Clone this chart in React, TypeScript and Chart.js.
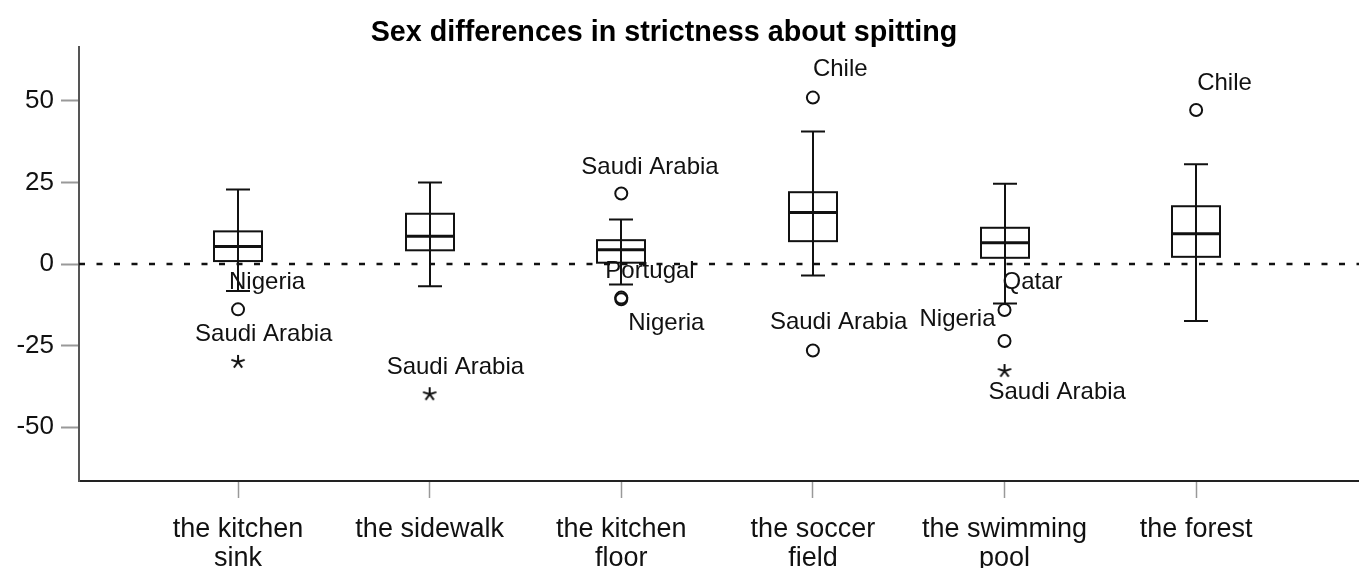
import React, { useEffect, useRef } from "react";
import { Chart, registerables } from "chart.js";

Chart.register(...registerables);

// ---------- data ----------
const chartTitle = "Sex differences in strictness about spitting";
const categories: string[][] = [
  ["the kitchen", "sink"],
  ["the sidewalk"],
  ["the kitchen", "floor"],
  ["the soccer", "field"],
  ["the swimming", "pool"],
  ["the forest"],
];
const whiskerLow = [-8.3, -6.8, -6.3, -3.5, -12.1, -17.5];
const q1 = [0.9, 4.2, 0.4, 7.0, 1.9, 2.2];
const median = [5.4, 8.5, 4.4, 15.8, 6.5, 9.3];
const q3 = [10.0, 15.4, 7.3, 22.0, 11.1, 17.7];
const whiskerHigh = [22.8, 25.0, 13.6, 40.6, 24.6, 30.6];

const outlierCategory = [0, 2, 2, 2, 3, 3, 4, 4, 5];
const outlierValue = [-13.9, 21.6, -10.3, -10.8, 51.0, -26.5, -14.1, -23.6, 47.2];
const outlierName = ["Nigeria", "Saudi Arabia", "Portugal", "Nigeria", "Chile", "Saudi Arabia", "Qatar", "Nigeria", "Chile"];

const extremeCategory = [0, 1, 4];
const extremeValue = [-30.0, -39.9, -32.8];
const extremeName = ["Saudi Arabia", "Saudi Arabia", "Saudi Arabia"];

const yTicks = [-50, -25, 0, 25, 50];
const referenceValue = 0;

// ---------- styling (pixel offsets of point labels) ----------
type Off = [number, number, CanvasTextAlign];
const outlierLabelOffset: Off[] = [
  [-9, -27, "left"],
  [-40, -26, "left"],
  [-16, -26, "left"],
  [7, 24, "left"],
  [0, -28, "left"],
  [-43, -28, "left"],
  [-2, -28, "left"],
  [-9, -22, "right"],
  [1, -27, "left"],
];
const extremeLabelOffset: Off[] = [
  [-43, -28, "left"],
  [-43, -27, "left"],
  [-16, 21, "left"],
];

const FONT = '"Liberation Sans", Arial, sans-serif';

function makeAsterisk(): HTMLCanvasElement {
  const c = document.createElement("canvas");
  c.width = 18;
  c.height = 18;
  const g = c.getContext("2d")!;
  g.strokeStyle = "#111";
  g.lineWidth = 2;
  g.lineCap = "butt";
  const cx = 9, cy = 9, r = 7;
  for (let k = 0; k < 5; k++) {
    const a = -Math.PI / 2 + (k * 2 * Math.PI) / 5;
    g.beginPath();
    g.moveTo(cx, cy);
    g.lineTo(cx + r * Math.cos(a), cy + r * Math.sin(a));
    g.stroke();
  }
  return c;
}

const boxPlugin = {
  id: "boxPlugin",
  beforeDatasetsDraw(chart: any) {
    const { ctx, scales, chartArea } = chart;
    const xs = scales.x, ys = scales.y;
    ctx.save();
    // reference line
    ctx.strokeStyle = "#111";
    ctx.lineWidth = 2.5;
    ctx.setLineDash([6, 11.5]);
    const y0 = ys.getPixelForValue(referenceValue);
    ctx.beginPath();
    ctx.moveTo(chartArea.left, y0);
    ctx.lineTo(chartArea.right, y0);
    ctx.stroke();
    ctx.setLineDash([]);
    // boxes
    const halfBox = 24, halfCap = 12;
    ctx.strokeStyle = "#111";
    categories.forEach((_, i) => {
      const x = Math.round(xs.getPixelForValue(i));
      const pLow = ys.getPixelForValue(whiskerLow[i]);
      const pHigh = ys.getPixelForValue(whiskerHigh[i]);
      const p1 = ys.getPixelForValue(q1[i]);
      const p3 = ys.getPixelForValue(q3[i]);
      const pm = ys.getPixelForValue(median[i]);
      ctx.lineWidth = 2;
      ctx.beginPath();
      ctx.moveTo(x, pLow);
      ctx.lineTo(x, pHigh);
      ctx.moveTo(x - halfCap, pLow);
      ctx.lineTo(x + halfCap, pLow);
      ctx.moveTo(x - halfCap, pHigh);
      ctx.lineTo(x + halfCap, pHigh);
      ctx.stroke();
      ctx.strokeRect(x - halfBox, p3, halfBox * 2, p1 - p3);
      ctx.lineWidth = 3;
      ctx.beginPath();
      ctx.moveTo(x - halfBox, pm);
      ctx.lineTo(x + halfBox, pm);
      ctx.stroke();
    });
    ctx.restore();
  },
  afterDatasetsDraw(chart: any) {
    const { ctx, scales } = chart;
    const xs = scales.x, ys = scales.y;
    ctx.save();
    ctx.fillStyle = "#111";
    ctx.font = `24px ${FONT}`;
    ctx.textBaseline = "middle";
    const put = (cat: number, val: number, name: string, off: Off) => {
      const x = xs.getPixelForValue(cat);
      const y = ys.getPixelForValue(val);
      ctx.textAlign = off[2];
      ctx.fillText(name, x + off[0], y + off[1]);
    };
    outlierName.forEach((n, i) => put(outlierCategory[i], outlierValue[i], n, outlierLabelOffset[i]));
    extremeName.forEach((n, i) => put(extremeCategory[i], extremeValue[i], n, extremeLabelOffset[i]));
    ctx.restore();
  },
  afterDraw(chart: any) {
    const { ctx } = chart;
    ctx.save();
    ctx.fillStyle = "#000";
    ctx.font = `bold 28.7px ${FONT}`;
    ctx.textAlign = "center";
    ctx.textBaseline = "alphabetic";
    ctx.fillText(chartTitle, 664, 41);
    ctx.restore();
  },
};

export default function App() {
  const ref = useRef<HTMLCanvasElement>(null);
  useEffect(() => {
    const star = makeAsterisk();
    const chart = new Chart(ref.current!, {
      type: "scatter",
      data: {
        datasets: [
          {
            data: outlierCategory.map((c, i) => ({ x: c, y: outlierValue[i] })),
            pointStyle: "circle",
            radius: 6,
            borderWidth: 2,
            borderColor: "#111",
            backgroundColor: "rgba(0,0,0,0)",
          },
          {
            data: extremeCategory.map((c, i) => ({ x: c, y: extremeValue[i] })),
            pointStyle: star as any,
            radius: 7,
            borderColor: "#111",
            backgroundColor: "#111",
          },
        ],
      },
      options: {
        animation: false,
        responsive: false,
        events: [],
        layout: { padding: { top: 47, left: 0, right: 0, bottom: 0 } },
        plugins: {
          legend: { display: false },
          tooltip: { enabled: false },
          title: { display: false },
        },
        scales: {
          x: {
            type: "linear",
            min: -0.83,
            max: 5.85,
            afterBuildTicks: (s: any) => {
              s.ticks = categories.map((_, i) => ({ value: i }));
            },
            afterFit: (s: any) => {
              s.height = 87;
            },
            ticks: {
              autoSkip: false,
              maxRotation: 0,
              padding: 17,
              color: "#111",
              font: { family: FONT, size: 27, lineHeight: 1.08 },
              callback: (v: any) => categories[v as number] as any,
            },
            grid: { drawOnChartArea: false, tickLength: 17, color: "#999", tickWidth: 1.5 },
            border: { display: true, color: "#222", width: 2 },
          },
          y: {
            type: "linear",
            min: -66.5,
            max: 66.5,
            afterBuildTicks: (s: any) => {
              s.ticks = yTicks.map((v) => ({ value: v }));
            },
            afterFit: (s: any) => {
              s.width = 79;
            },
            ticks: {
              padding: 7,
              color: "#111",
              font: { family: FONT, size: 26 },
            },
            grid: { drawOnChartArea: false, tickLength: 18, color: "#999", tickWidth: 2 },
            border: { display: true, color: "#555", width: 2 },
          },
        },
      },
      plugins: [boxPlugin],
    });
    return () => chart.destroy();
  }, []);
  return (
    <div style={{ position: "fixed", left: 0, top: 0, width: 1359, height: 568, overflow: "hidden", background: "#fff" }}>
      <canvas ref={ref} width={1367} height={568} style={{ display: "block" }} />
    </div>
  );
}
